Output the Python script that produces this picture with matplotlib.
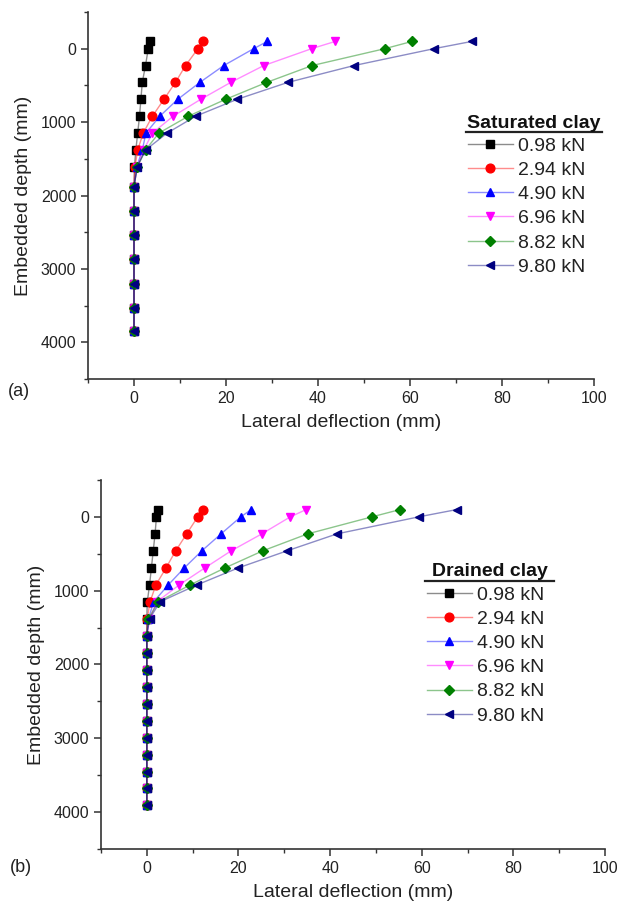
import matplotlib
matplotlib.use("Agg")
import matplotlib.pyplot as plt
from matplotlib.lines import Line2D
from matplotlib.colors import to_rgba

plt.rcParams['font.family'] = ['Liberation Sans', 'DejaVu Sans']

# load levels and series styles
labels = ["0.98 kN", "2.94 kN", "4.90 kN", "6.96 kN", "8.82 kN", "9.80 kN"]
colors = ["#000000", "#ff0000", "#0000ff", "#ff00ff", "#008000", "#000080"]
markers = ["s", "o", "^", "v", "D", "<"]

# (a) saturated clay
depth_a = [-100, 0, 230, 460, 690, 920, 1150, 1380, 1610, 1880,
           2210, 2540, 2870, 3200, 3530, 3850]
sat_098 = [3.5, 3.1, 2.5, 1.8, 1.5, 1.2, 0.8, 0.4, 0.1, 0, 0, 0, 0, 0, 0, 0]
sat_294 = [15.0, 13.9, 11.2, 9.0, 6.5, 4.0, 2.0, 0.8, 0.2, 0, 0, 0, 0, 0, 0, 0]
sat_490 = [29.0, 26.0, 19.5, 14.3, 9.5, 5.6, 2.6, 1.8, 0.6, 0, 0, 0, 0, 0, 0, 0]
sat_696 = [43.8, 38.6, 28.2, 21.0, 14.5, 8.5, 4.0, 2.1, 0.7, 0, 0, 0, 0, 0, 0, 0]
sat_882 = [60.5, 54.5, 38.7, 28.8, 19.9, 11.8, 5.4, 2.5, 0.7, 0, 0, 0, 0, 0, 0, 0]
sat_980 = [73.5, 65.2, 47.8, 33.4, 22.4, 13.4, 7.2, 2.5, 0.7, 0, 0, 0, 0, 0, 0, 0]

# (b) drained clay
depth_b = [-100, 0, 230, 460, 690, 920, 1150, 1380, 1610, 1840,
           2070, 2300, 2530, 2760, 2990, 3220, 3450, 3680, 3900]
dr_098 = [2.4, 2.1, 1.8, 1.4, 1.0, 0.6, 0.1, 0, 0, 0, 0, 0, 0, 0, 0, 0, 0, 0, 0]
dr_294 = [12.2, 11.1, 8.7, 6.3, 4.2, 2.0, 0.7, 0.1, 0, 0, 0, 0, 0, 0, 0, 0, 0, 0, 0]
dr_490 = [22.8, 20.5, 16.2, 12.0, 8.2, 4.7, 1.5, 0.35, 0, 0, 0, 0, 0, 0, 0, 0, 0, 0, 0]
dr_696 = [34.8, 31.3, 25.1, 18.4, 12.7, 7.1, 2.2, 0.6, 0, 0, 0, 0, 0, 0, 0, 0, 0, 0, 0]
dr_882 = [55.3, 49.1, 35.1, 25.3, 17.1, 9.5, 2.5, 0.35, 0, 0, 0, 0, 0, 0, 0, 0, 0, 0, 0]
dr_980 = [67.7, 59.3, 41.5, 30.6, 20.0, 11.0, 2.9, 0.6, 0, 0, 0, 0, 0, 0, 0, 0, 0, 0, 0]

W, H = 623, 909
fig = plt.figure(figsize=(W / 100, H / 100), dpi=100)


def fx(px):
    return px / W


def fy(py):
    return 1 - py / H


def panel(box, depth, series, title, tx, ty, ul, leg_xy, tag_xy):
    left, top, right, bottom = box
    ax = fig.add_axes([fx(left), fy(bottom), fx(right - left), (bottom - top) / H])
    for vals, lab, c, m in zip(series, labels, colors, markers):
        ms = 5.5 if m == "D" else 6.3
        ax.plot(vals, depth, color=to_rgba(c, 0.45), lw=1.0, marker=m, ms=ms,
                mfc=c, mec=c, label=lab)
    ax.set_xlim(-10, 100)
    ax.set_ylim(4500, -500)
    ax.set_xticks(range(0, 101, 20))
    ax.set_xticks(range(-10, 101, 10), minor=True)
    ax.set_yticks(range(0, 4001, 1000))
    ax.set_yticks(range(-500, 4501, 500), minor=True)
    for s in ["top", "right"]:
        ax.spines[s].set_visible(False)
    for s in ["left", "bottom"]:
        ax.spines[s].set_linewidth(1.2)
        ax.spines[s].set_color("#333333")
    ax.tick_params(which="major", direction="out", length=5, width=1.1,
                   labelsize=11.5, colors="#333333", labelcolor="#222222")
    ax.tick_params(which="minor", direction="out", length=3, width=1.0, colors="#333333")
    ax.set_xlabel("Lateral deflection (mm)", fontsize=14, color="#222222", labelpad=6)
    ax.set_ylabel("Embedded depth (mm)", fontsize=14, color="#222222", labelpad=6)

    fig.text(fx(tx), fy(ty), title, fontsize=14, fontweight="bold",
             color="#111111", ha="left", va="center")
    fig.add_artist(Line2D([fx(ul[0]), fx(ul[1])], [fy(ul[2]), fy(ul[2])],
                          color="#222222", lw=1.6))
    ax.legend(loc="upper left", bbox_to_anchor=(fx(leg_xy[0]), fy(leg_xy[1])),
              bbox_transform=fig.transFigure, frameon=False, fontsize=14,
              handlelength=2.3, handletextpad=0.25, labelspacing=0.34,
              borderpad=0, borderaxespad=0, labelcolor="#222222")
    fig.text(fx(tag_xy[0]), fy(tag_xy[1]), tag_xy[2], fontsize=13,
             color="#222222", ha="left", va="center")
    return ax


panel((88, 12, 594, 379), depth_a,
      [sat_098, sat_294, sat_490, sat_696, sat_882, sat_980],
      "Saturated clay", 467, 123, (466, 602, 132), (468, 137), (8, 392, "(a)"))
panel((101, 480, 605, 849), depth_b,
      [dr_098, dr_294, dr_490, dr_696, dr_882, dr_980],
      "Drained clay", 432, 571, (425, 554, 581), (427, 586), (10, 868, "(b)"))

fig.savefig("out.png", dpi=100)
